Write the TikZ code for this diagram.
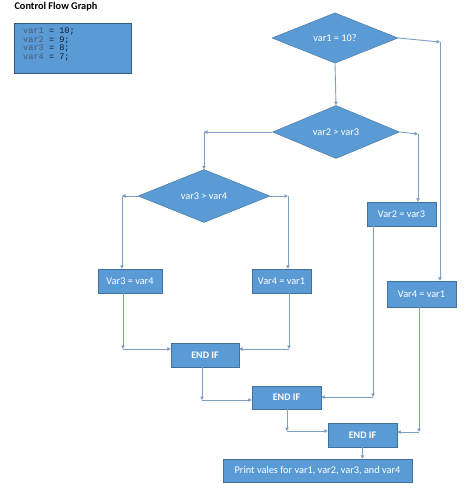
\documentclass[tikz,border=0pt]{standalone}
\usepackage{fontspec}
\setmainfont{Carlito}
\newfontfamily\codefont{Liberation Mono}
\usetikzlibrary{shapes.geometric,arrows.meta}
\definecolor{boxblue}{HTML}{5B9BD5}
\definecolor{boxline}{HTML}{41719C}
\definecolor{flowline}{HTML}{7F9FC4}
\definecolor{codevar}{HTML}{4A5775}
\definecolor{codeval}{HTML}{141A2A}

\begin{document}
\begin{tikzpicture}[x=1pt, y=-1pt, font=\fontsize{10.3}{12}\selectfont,
    decision/.style={diamond, draw=boxline, fill=boxblue, text=white, inner sep=0pt},
    process/.style={rectangle, draw=boxline, fill=boxblue, text=white, inner sep=0pt},
    endif/.style={process, font=\fontsize{10}{12}\selectfont\bfseries},
    flow/.style={draw=flowline, line width=0.9pt, -{Triangle[length=3.5pt,width=3.5pt]}}]
        \useasboundingbox (0,0) rectangle (474,495);
        
        % title and code
        \node[anchor=west, font=\fontsize{10.3}{12}\selectfont\bfseries] (title) at (11,7) {Control Flow Graph};
        \node[process, draw=boxline!80!black, minimum width=117pt, minimum height=50pt] (code) at (72.5,48) {};
        \node[anchor=north west, align=left, inner sep=0pt,
              font=\codefont\fontsize{8.6}{8.7}\selectfont, text=codeval] (codetext) at (23,27.5)
            {\textcolor{codevar}{var1} = 10;\\ \textcolor{codevar}{var2} = 9;\\
             \textcolor{codevar}{var3} = 8;\\ \textcolor{codevar}{var4} = 7;};
        
        % decisions
        \node[decision, minimum width=126pt, minimum height=42pt] (d1) at (335,38) {var1 = 10?};
        \node[decision, minimum width=127pt, minimum height=45pt] (d2) at (336,132) {var2 > var3};
        \node[decision, minimum width=132pt, minimum height=46pt] (d3) at (204,196) {var3 > var4};
        
        % assignments
        \node[process, minimum width=69pt, minimum height=24pt] (v23) at (401.5,214) {Var2 = var3};
        \node[process, minimum width=69pt, minimum height=26pt] (v41r) at (421.5,294) {Var4 = var1};
        \node[process, minimum width=64pt, minimum height=24pt] (v34) at (130,281) {Var3 = var4};
        \node[process, minimum width=59pt, minimum height=24pt] (v41l) at (281.5,281) {Var4 = var1};
        
        % end ifs and output
        \node[endif, minimum width=68pt, minimum height=24pt] (e1) at (205,355) {END IF};
        \node[endif, minimum width=69pt, minimum height=23pt] (e2) at (286.5,397.5) {END IF};
        \node[endif, minimum width=69pt, minimum height=24pt] (e3) at (362.5,435) {END IF};
        \node[process, minimum width=189pt, minimum height=23pt] (out) at (317.5,470.5) {Print vales for var1, var2, var3, and var4};
        
        % corners
        \coordinate (c1) at (440,42);
        \coordinate (c2) at (d3.north |- d2.west);
        \coordinate (c3) at (418,134);
        \coordinate (c4) at (122,196);
        \coordinate (c5) at (288,196);
        \coordinate (c6) at (123,349);
        \coordinate (c7) at (289,349);
        \coordinate (c8) at (202,400);
        \coordinate (c9) at (373,397);
        \coordinate (c10) at (287,431);
        \coordinate (c11) at (419,432);
        
        % connectors
        \draw[flow] (d1.east) -- (c1);
        \draw[flow] (c1) -- (c1 |- v41r.north);
        \draw[flow] (d1.south) -- (d2.north);
        \draw[flow] (d2.west) -- (c2);
        \draw[flow] (c2) -- (d3.north);
        \draw[flow] (d2.east) -- (c3);
        \draw[flow] (c3) -- (c3 |- v23.north);
        \draw[flow] (d3.west) -- (c4);
        \draw[flow] (c4) -- (c4 |- v34.north);
        \draw[flow] (d3.east) -- (c5);
        \draw[flow] (c5) -- (c5 |- v41l.north);
        \draw[flow] (c6 |- v34.south) -- (c6);
        \draw[flow] (c6) -- (c6 -| e1.west);
        \draw[flow] (c7 |- v41l.south) -- (c7);
        \draw[flow] (c7) -- (c7 -| e1.east);
        \draw[flow] (c8 |- e1.south) -- (c8);
        \draw[flow] (c8) -- (c8 -| e2.west);
        \draw[flow] (c9 |- v23.south) -- (c9);
        \draw[flow] (c9) -- (c9 -| e2.east);
        \draw[flow] (c10 |- e2.south) -- (c10);
        \draw[flow] (c10) -- (c10 -| e3.west);
        \draw[flow] (c11 |- v41r.south) -- (c11);
        \draw[flow] (c11) -- (c11 -| e3.east);
        \draw[flow] (e3.south) -- (e3.south |- out.north);
\end{tikzpicture}
\end{document}
